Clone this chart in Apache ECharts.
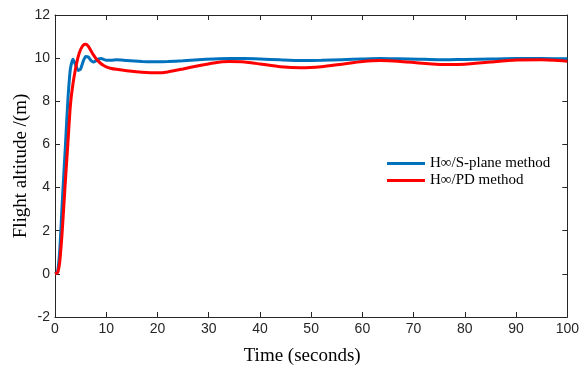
<!DOCTYPE html>
<html>
<head>
<meta charset="utf-8">
<script src="https://cdn.jsdelivr.net/npm/echarts@6/dist/echarts.min.js"></script>
<style>html,body{margin:0;padding:0;background:#fff}#c{width:582px;height:371px}</style>
</head>
<body>
<div id="c"></div>
<script>
var timeSec = [0,0.5,0.9,1.2,1.5,2.0,2.5,3.0,3.5,4.0,4.5,5.0,5.5,6.0,6.5,7.0,7.5,8.0,8.5,9.0,9.5,10,11,12,14,17,20,22,25,28,31,34,37,40,44,48,52,56,60,63.5,67,71,75,77,80,85,90,95,100];
var sPlane = [0,0.1,1.0,2.3,3.7,5.8,8.0,9.5,9.95,9.7,9.43,9.5,9.85,10.08,10.05,9.9,9.82,9.88,9.96,9.98,9.94,9.9,9.9,9.92,9.89,9.85,9.83,9.84,9.88,9.93,9.96,9.98,9.98,9.96,9.92,9.89,9.9,9.93,9.96,9.98,9.97,9.95,9.93,9.93,9.94,9.96,9.98,9.98,9.97];
var pdMethod = [0,0.05,0.5,1.3,2.3,4.2,6.0,7.8,8.8,9.5,10.05,10.4,10.6,10.64,10.55,10.35,10.15,9.98,9.85,9.74,9.66,9.6,9.52,9.48,9.42,9.35,9.32,9.36,9.5,9.65,9.78,9.84,9.82,9.73,9.6,9.55,9.6,9.72,9.84,9.89,9.86,9.78,9.71,9.7,9.72,9.82,9.91,9.92,9.86];
var seriesNames = ['H\u221e/S-plane method', 'H\u221e/PD method'];
var xTicks = {min: 0, max: 100, interval: 10};
var yTicks = {min: -2, max: 12, interval: 2};

function pairs(vals){ return timeSec.map(function(t,i){ return [t, vals[i]]; }); }

var axisCol = '#262626';
var tickFont = {fontFamily: 'Liberation Sans, Arial', fontSize: 14, color: '#262626'};
var line = {show: true, onZero: false, lineStyle: {color: axisCol, width: 1}};
var tick = {show: true, inside: true, length: 5, lineStyle: {color: axisCol}};
var chart = echarts.init(document.getElementById('c'), null, {renderer: 'canvas'});
chart.setOption({
  animation: false,
  backgroundColor: '#fff',
  grid: {left: 55, right: 14, top: 15, bottom: 48, containLabel: false},
  legend: {
    orient: 'vertical', left: 387, top: 156, padding: 0,
    itemWidth: 38, itemHeight: 3, itemGap: 2,
    icon: 'rect',
    textStyle: {fontFamily: 'Liberation Serif, Times New Roman', fontSize: 15, color: '#000', lineHeight: 14},
    data: seriesNames
  },
  xAxis: [{
    type: 'value', min: xTicks.min, max: xTicks.max, interval: xTicks.interval,
    name: 'Time (seconds)', nameLocation: 'middle', nameGap: 30,
    nameTextStyle: {fontFamily: 'Liberation Serif, Times New Roman', fontSize: 19, color: '#000', padding: [0, 18, 0, 0]},
    axisLine: line, axisTick: tick,
    axisLabel: Object.assign({margin: 5}, tickFont),
    splitLine: {show: false}
  }, {
    type: 'value', position: 'top', min: xTicks.min, max: xTicks.max, interval: xTicks.interval,
    axisLine: line, axisTick: tick,
    axisLabel: {show: false}, splitLine: {show: false}
  }],
  yAxis: [{
    type: 'value', min: yTicks.min, max: yTicks.max, interval: yTicks.interval,
    name: 'Flight altitude /(m)', nameLocation: 'middle', nameGap: 24, nameMoveOverlap: false,
    nameTextStyle: {fontFamily: 'Liberation Serif, Times New Roman', fontSize: 19, color: '#000'},
    axisLine: line, axisTick: tick,
    axisLabel: Object.assign({margin: 5}, tickFont),
    splitLine: {show: false}
  }, {
    type: 'value', position: 'right', min: yTicks.min, max: yTicks.max, interval: yTicks.interval,
    axisLine: line, axisTick: tick,
    axisLabel: {show: false}, splitLine: {show: false}
  }],
  series: [{
    name: seriesNames[0], type: 'line', data: pairs(sPlane), showSymbol: false, smooth: 0.2,
    lineStyle: {color: '#0072BD', width: 3}, itemStyle: {color: '#0072BD'}, z: 3
  }, {
    name: seriesNames[1], type: 'line', data: pairs(pdMethod), showSymbol: false, smooth: 0.2,
    lineStyle: {color: '#FF0000', width: 3}, itemStyle: {color: '#FF0000'}, z: 4
  }]
});
</script>
</body>
</html>
